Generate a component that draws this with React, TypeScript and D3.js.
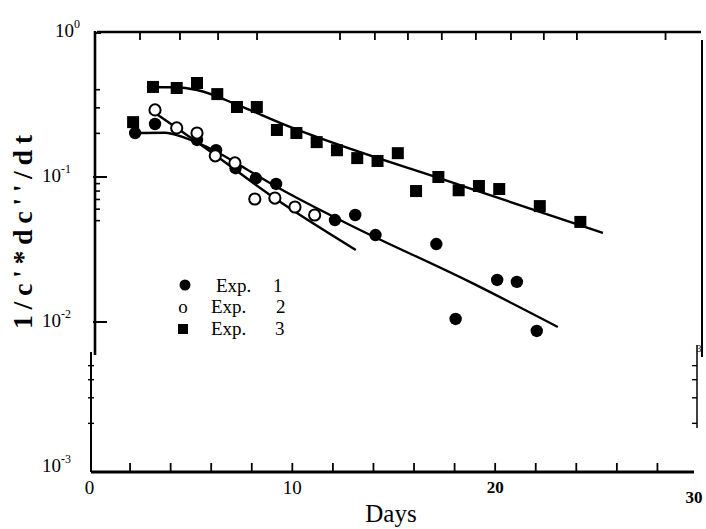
import React from "react";
import { scaleLinear, scaleLog, line, curveMonotoneX } from "d3";

const exp1Days = [2.25, 3.23, 5.3, 6.24, 7.2, 8.2, 9.2, 12.1, 13.1, 14.1, 17.1, 18.05, 20.1, 21.07, 22.05];
const exp1Values = [0.201, 0.232, 0.18, 0.153, 0.115, 0.098, 0.0895, 0.0505, 0.0547, 0.0398, 0.0345, 0.0105, 0.0195, 0.0189, 0.00867];

const exp2Days = [3.23, 4.3, 5.3, 6.2, 7.17, 8.15, 9.14, 10.13, 11.1];
const exp2Values = [0.29, 0.218, 0.201, 0.14, 0.125, 0.0705, 0.0716, 0.0621, 0.0547];

const exp3Days = [2.15, 3.13, 4.3, 5.3, 6.3, 7.27, 8.25, 9.24, 10.2, 11.2, 12.2, 13.2, 14.2, 15.2, 16.1, 17.2, 18.2, 19.2, 20.2, 22.2, 24.2];
const exp3Values = [0.239, 0.418, 0.411, 0.445, 0.373, 0.304, 0.304, 0.211, 0.201, 0.174, 0.153, 0.135, 0.129, 0.146, 0.08, 0.1, 0.081, 0.0867, 0.0826, 0.063, 0.049];

// fitted curves
const fit1Days = [2.14, 3.72, 4.71, 6.19, 7.66, 9.24, 12.84, 18.75, 23.09];
const fit1Values = [0.201, 0.202, 0.186, 0.151, 0.115, 0.0853, 0.0467, 0.0189, 0.00924];
const fit2Days = [3.23, 6.19, 8.9, 13.13];
const fit2Values = [0.276, 0.142, 0.0751, 0.0314];
const fit3Days = [2.83, 4.21, 5.3, 7.42, 9.39, 18.26, 25.31];
const fit3Values = [0.418, 0.416, 0.398, 0.309, 0.236, 0.088, 0.0411];

// ticks
const bottomTicks = [2, 4, 6, 8, 10, 12, 14, 16, 18, 20, 22, 24, 26, 28];
const topTicks = [2.49, 4.46, 6.34, 8.26, 12.35, 14.07, 15.7, 17.37, 19.05, 20.78, 22.4, 24.03, 28.4];
const upperMinor = [0.4, 0.3, 0.2, 0.09, 0.08, 0.07, 0.06, 0.05];
const lowerMinor = [0.005, 0.004, 0.003, 0.002];
const majorTicks = [0.1, 0.01];
const yTickLabels = [
  { v: 1, exp: "0" },
  { v: 0.1, exp: "-1" },
  { v: 0.01, exp: "-2" },
  { v: 0.001, exp: "-3" },
];
const xTickLabels = [
  { d: 0, label: "0", bold: false },
  { d: 10, label: "10", bold: false },
  { d: 20, label: "20", bold: true },
  { d: 30, label: "30", bold: true },
];
const legendItems = ["1", "2", "3"];

const W = 706;
const H = 529;
const serif = "Liberation Serif, DejaVu Serif, Times New Roman, serif";

export default function App() {
  const x = scaleLinear().domain([0, 30]).range([89.5, 698]);
  const y = scaleLog().domain([1e-3, 1]).range([467, 32]);
  const axisY = 472;
  const leftX = 95;
  const rightX = 702;

  const fitLine = line<[number, number]>()
    .x((d) => x(d[0]))
    .y((d) => y(d[1]))
    .curve(curveMonotoneX);

  const zip = (a: number[], b: number[]) => a.map((d, i) => [d, b[i]] as [number, number]);
  const fits = [zip(fit1Days, fit1Values), zip(fit2Days, fit2Values), zip(fit3Days, fit3Values)];

  return (
    <svg
      width={W}
      height={H}
      style={{ position: "absolute", left: 0, top: 0, background: "#fff", fontFamily: serif }}
    >
      {/* frame */}
      <g stroke="#000" fill="none">
        <line x1={97} x2={701} y1={32} y2={32} strokeWidth={2.6} />
        <line x1={leftX} x2={leftX} y1={31} y2={355} strokeWidth={2.6} />
        <line x1={91} x2={91} y1={352} y2={axisY} strokeWidth={2} />
        <line x1={91} x2={694} y1={axisY} y2={axisY} strokeWidth={2.8} />
        <line x1={rightX} x2={rightX} y1={40} y2={357} strokeWidth={2} />
        <line x1={697} x2={697} y1={345} y2={428} strokeWidth={1.5} />
        <line x1={leftX} x2={101} y1={33} y2={33} strokeWidth={2} />
      </g>

      {/* ticks */}
      <g stroke="#000">
        {bottomTicks.map((d) => (
          <line key={"b" + d} x1={x(d)} x2={x(d)} y1={axisY} y2={axisY - 9} strokeWidth={1.8} />
        ))}
        {topTicks.map((d) => (
          <line key={"t" + d} x1={x(d)} x2={x(d)} y1={32} y2={40} strokeWidth={1.8} />
        ))}
        {upperMinor.map((v) => (
          <line key={"um" + v} x1={leftX} x2={leftX + 5} y1={y(v)} y2={y(v)} strokeWidth={1.6} />
        ))}
        {majorTicks.map((v) => (
          <line key={"mj" + v} x1={leftX - 2} x2={leftX + 12} y1={y(v)} y2={y(v)} strokeWidth={2} />
        ))}
        {lowerMinor.map((v) => (
          <line key={"lm" + v} x1={88} x2={94} y1={y(v)} y2={y(v)} strokeWidth={1.4} />
        ))}
        {lowerMinor.map((v) => (
          <line key={"rm" + v} x1={692} x2={697} y1={y(v)} y2={y(v)} strokeWidth={1.4} />
        ))}
      </g>
      <text x={699} y={352} fontSize={10} textAnchor="middle" fontFamily={serif}>3</text>

      {/* y tick labels */}
      {yTickLabels.map((t) => (
        <text key={t.exp} x={t.exp === "0" ? 55 : 42} y={y(t.v) + 5} fontSize={19} fontFamily={serif}>
          10
          <tspan dy={-9} fontSize={12}>{t.exp}</tspan>
        </text>
      ))}

      {/* x tick labels */}
      {xTickLabels.map((t) => (
        <text
          key={t.label}
          x={t.d === 30 ? 694 : x(t.d)}
          y={t.bold ? (t.d === 30 ? 503 : 493) : 494}
          fontSize={t.bold ? 17 : 19}
          fontWeight={t.bold ? "bold" : "normal"}
          textAnchor="middle"
          fontFamily={serif}
        >
          {t.label}
        </text>
      ))}

      {/* axis titles */}
      <text x={391} y={522} fontSize={25} textAnchor="middle" fontFamily={serif}>Days</text>
      <text
        transform="translate(32,232) rotate(-90)"
        fontSize={28}
        fontWeight="bold"
        textAnchor="middle"
        textLength={194}
        lengthAdjust="spacing"
        fontFamily={serif}
      >
        1/c'*dc''/dt
      </text>

      {/* fitted lines */}
      {fits.map((f, i) => (
        <path key={"fit" + i} d={fitLine(f) || ""} fill="none" stroke="#000" strokeWidth={2.4} />
      ))}

      {/* Exp. 3 squares */}
      {exp3Days.map((d, i) => (
        <rect key={"s" + i} x={x(d) - 6} y={y(exp3Values[i]) - 6} width={12} height={12} fill="#000" />
      ))}
      {/* Exp. 1 filled circles */}
      {exp1Days.map((d, i) => (
        <circle key={"f" + i} cx={x(d)} cy={y(exp1Values[i])} r={6.2} fill="#000" />
      ))}
      {/* Exp. 2 open circles */}
      {exp2Days.map((d, i) => (
        <circle key={"o" + i} cx={x(d)} cy={y(exp2Values[i])} r={5.6} fill="#fff" stroke="#000" strokeWidth={2} />
      ))}

      {/* legend */}
      <g fontSize={19} fontFamily={serif}>
        <circle cx={185} cy={285} r={5.5} fill="#000" />
        <text x={216} y={292}>Exp.</text>
        <text x={273} y={292}>{legendItems[0]}</text>
        <text x={183} y={313} textAnchor="middle">o</text>
        <text x={211} y={313}>Exp.</text>
        <text x={276} y={313}>{legendItems[1]}</text>
        <rect x={178} y={324} width={10} height={10} fill="#000" />
        <text x={211} y={335}>Exp.</text>
        <text x={275} y={335}>{legendItems[2]}</text>
      </g>
    </svg>
  );
}
